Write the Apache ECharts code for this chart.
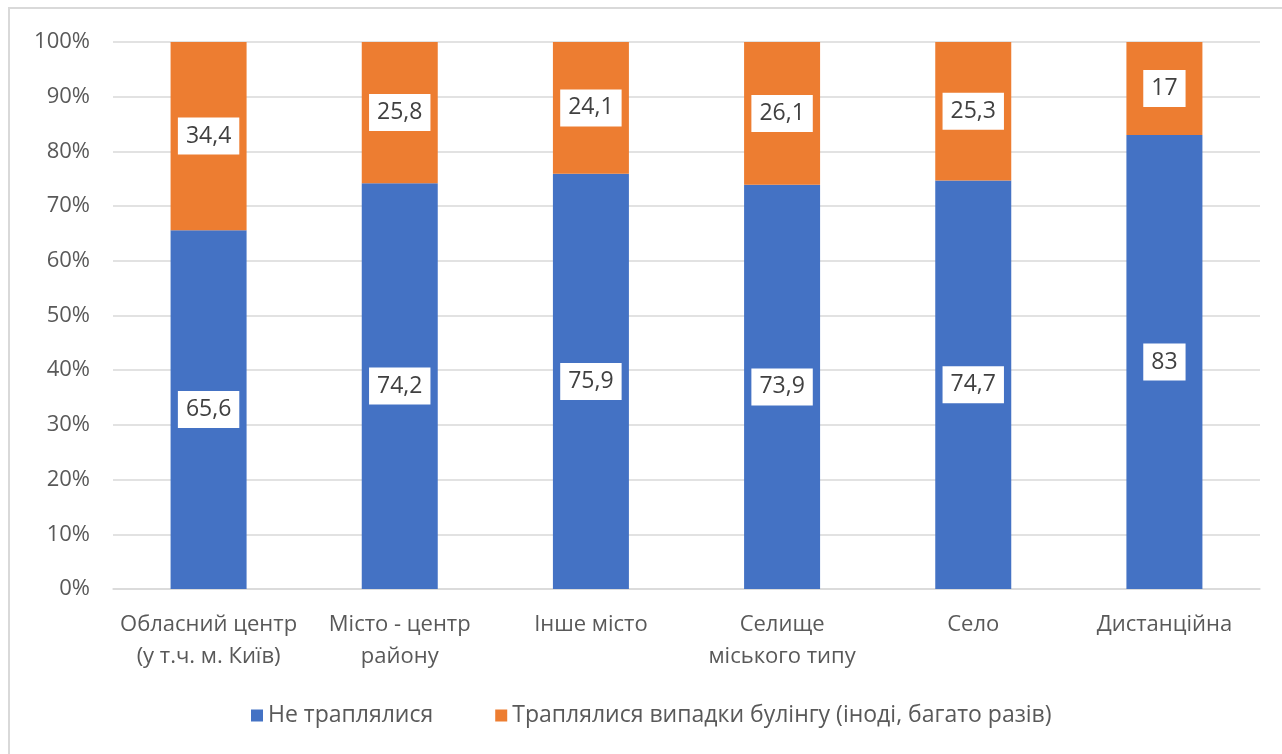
<!DOCTYPE html>
<html>
<head>
<meta charset="utf-8">
<script src="https://cdn.jsdelivr.net/npm/echarts@6/dist/echarts.min.js"></script>
<style>
  html, body { margin: 0; padding: 0; background: #fff; }
  #chart { width: 1282px; height: 754px; }
</style>
</head>
<body>
<div id="chart"></div>
<script>
let categories = [
  "Обласний центр\n(у т.ч. м. Київ)",
  "Місто - центр\nрайону",
  "Інше місто",
  "Селище\nміського типу",
  "Село",
  "Дистанційна"
];
let notHappened = [65.6, 74.2, 75.9, 73.9, 74.7, 83];
let happened = [34.4, 25.8, 24.1, 26.1, 25.3, 17];
let seriesNames = ["Не траплялися", "Траплялися випадки булінгу (іноді, багато разів)"];

let font = "'Open Sans', Lato, sans-serif";

let labelBox = {
  show: true,
  position: "inside",
  backgroundColor: "#fff",
  color: "#404040",
  fontSize: 23,
  fontFamily: font,
  padding: [8, 8, 6, 8],
  formatter: (p) => String(p.value).replace(".", ",")
};

let myChart = echarts.init(document.getElementById("chart"));
myChart.setOption({
  animation: false,
  graphic: [{
    type: "rect",
    shape: { x: 9, y: 8, width: 1300, height: 800 },
    style: { fill: "none", stroke: "#d9d9d9", lineWidth: 2 }
  }],
  grid: { left: 113, right: 22, top: 42, bottom: 165 },
  legend: {
    bottom: 22,
    left: 246,
    itemWidth: 12,
    itemHeight: 12,
    itemGap: 62,
    itemStyle: { borderWidth: 0 },
    icon: "rect",
    textStyle: { color: "#595959", fontSize: 23, fontFamily: font },
    data: seriesNames
  },
  xAxis: {
    type: "category",
    data: categories,
    axisLine: { lineStyle: { color: "#d9d9d9", width: 1.5 } },
    axisTick: { show: false },
    axisLabel: {
      interval: 0,
      color: "#595959",
      fontSize: 22,
      fontFamily: font,
      lineHeight: 32,
      margin: 20
    }
  },
  yAxis: {
    type: "value",
    min: 0,
    max: 100,
    interval: 10,
    axisLine: { show: false },
    axisTick: { show: false },
    splitLine: { lineStyle: { color: "#d9d9d9", width: 1.5 } },
    axisLabel: {
      color: "#595959",
      fontSize: 22,
      fontFamily: font,
      margin: 23,
      formatter: "{value}%"
    }
  },
  series: [
    {
      name: seriesNames[0],
      type: "bar",
      stack: "total",
      barWidth: 76,
      itemStyle: { color: "#4472C4" },
      label: labelBox,
      data: notHappened
    },
    {
      name: seriesNames[1],
      type: "bar",
      stack: "total",
      barWidth: 76,
      itemStyle: { color: "#ED7D31" },
      label: labelBox,
      data: happened
    }
  ]
});
window.addEventListener("resize", () => {
  myChart.resize();
});
</script>
</body>
</html>
